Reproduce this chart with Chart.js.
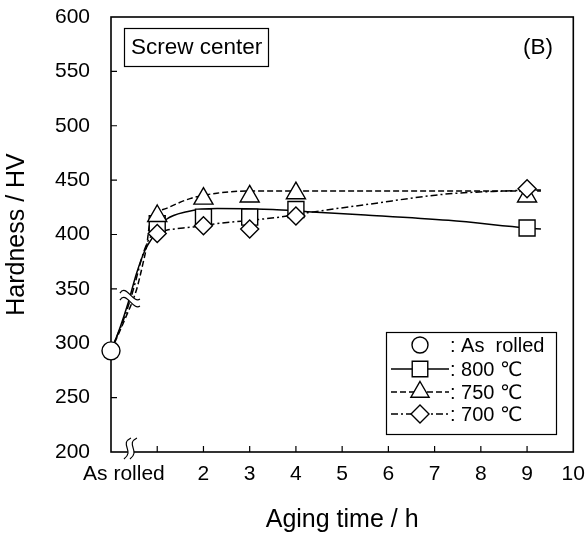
<!DOCTYPE html>
<html>
<head>
<meta charset="utf-8">
<script src="https://cdn.jsdelivr.net/npm/chart.js@4.4.1/dist/chart.umd.min.js"></script>
<style>
  html, body { margin: 0; padding: 0; background: #fff; }
  #wrap { width: 586px; height: 535px; }
</style>
</head>
<body>
<div id="wrap"><canvas id="chart-hardness" width="586" height="535"></canvas></div>
<script>
var asRolledX = [0];
var asRolledY = [293];
var agingTimes = [1, 2, 3, 4, 9];
var hv800 = [410, 416, 416, 423, 406];
var hv750 = [417, 433, 435, 438, 435];
var hv700 = [401, 408, 405, 417, 442];

// hand-drawn fit curves
var fit800X = [0, 0.2, 0.37, 0.55, 0.74, 0.88, 1, 1.2, 1.64, 2.3, 3.5, 4.25, 5.5, 7.3, 9, 9.3];
var fit800Y = [293, 315, 337, 364, 386, 396, 404, 414, 421, 424, 423, 421, 418, 413, 406, 405];
var fit750X = [0, 0.3, 0.55, 0.7, 0.77, 0.84, 1.2, 1.71, 2.29, 3, 5, 7, 9.3];
var fit750Y = [293, 322, 349, 375, 389, 410, 424, 433, 438, 440, 440, 440, 440];
var fit700X = [0, 0.3, 0.48, 0.7, 0.84, 1, 1.2, 1.78, 2.29, 3, 3.65, 4.25, 5.6, 7.2, 8.5, 9.3];
var fit700Y = [293, 325, 349, 383, 397, 402, 404, 407, 410, 413, 416, 420, 428, 437, 440, 441];

// axes
var yTickValues = [200, 250, 300, 350, 400, 450, 500, 550, 600];
var yTickMarks = [250, 300, 350, 400, 450, 500, 550];
var xTickValues = [0.28, 2, 3, 4, 5, 6, 7, 8, 9, 10];
var xTickLabels = ['As rolled', '2', '3', '4', '5', '6', '7', '8', '9', '10'];
var xTickMarks = [1, 2, 3, 4, 5, 6, 7, 8, 9];

var legendLabels = [': As  rolled', ': 800 \u2103', ': 750 \u2103', ': 700 \u2103'];

var FONT = '"Liberation Sans", Arial, "DejaVu Sans", sans-serif';

function pts(xs, ys) {
    return xs.map(function (x, i) { return {x: x, y: ys[i]}; });
}

function wavePath(cx, cy, dx, dy, vertical, reverse) {
    // one stroke of a break mark
    var p;
    if (vertical) {
        p = [[cx + 4 + dx, cy - 12], [cx - 8 + dx, cy - 6], [cx + 8 + dx, cy + 1], [cx - 3 + dx, cy + 9]];
    } else {
        p = [[cx - 10, cy - 1 + dy], [cx - 4, cy - 11 + dy], [cx + 3, cy + 10 + dy], [cx + 10, cy + 5 + dy]];
    }
    if (reverse) p = p.slice().reverse();
    return p;
}

function drawBreak(ctx, cx, cy, vertical) {
    var a = wavePath(cx, cy, -3, -3.5, vertical, false);
    var b = wavePath(cx, cy, 3, 3.5, vertical, true);
    ctx.save();
    ctx.beginPath();
    ctx.moveTo(a[0][0], a[0][1]);
    ctx.bezierCurveTo(a[1][0], a[1][1], a[2][0], a[2][1], a[3][0], a[3][1]);
    ctx.lineTo(b[0][0], b[0][1]);
    ctx.bezierCurveTo(b[1][0], b[1][1], b[2][0], b[2][1], b[3][0], b[3][1]);
    ctx.closePath();
    ctx.fillStyle = '#fff';
    ctx.fill();
    ctx.strokeStyle = '#000';
    ctx.lineWidth = 1.2;
    [a, b].forEach(function (p) {
        ctx.beginPath();
        ctx.moveTo(p[0][0], p[0][1]);
        ctx.bezierCurveTo(p[1][0], p[1][1], p[2][0], p[2][1], p[3][0], p[3][1]);
        ctx.stroke();
    });
    ctx.restore();
}

var frameTicks = {
    id: 'frameTicks',
    beforeDatasetsDraw: function (chart) {
        var ctx = chart.ctx, area = chart.chartArea;
        var xs = chart.scales.x, ys = chart.scales.y;
        ctx.save();
        ctx.strokeStyle = '#000';
        ctx.lineWidth = 1.2;
        ctx.beginPath();
        xTickMarks.forEach(function (v) {
            var px = xs.getPixelForValue(v);
            ctx.moveTo(px, area.bottom);
            ctx.lineTo(px, area.bottom - 6);
        });
        yTickMarks.forEach(function (v) {
            var py = ys.getPixelForValue(v);
            ctx.moveTo(area.left, py);
            ctx.lineTo(area.left + 6, py);
        });
        ctx.stroke();
        ctx.lineWidth = 1.6;
        ctx.strokeRect(area.left, area.top, area.right - area.left, area.bottom - area.top);
        ctx.restore();
    }
};

var extras = {
    id: 'extras',
    afterDatasetsDraw: function (chart) {
        var ctx = chart.ctx, area = chart.chartArea;
        var xs = chart.scales.x, ys = chart.scales.y;

        // axis break and curve break
        drawBreak(ctx, xs.getPixelForValue(0.41), area.bottom - 2, true);
        drawBreak(ctx, xs.getPixelForValue(0.41), ys.getPixelForValue(342), false);
    },
    afterDraw: function (chart) {
        var ctx = chart.ctx;
        ctx.save();

        // sample label box
        ctx.strokeStyle = '#000';
        ctx.lineWidth = 1.2;
        ctx.strokeRect(124.5, 28.5, 144, 38);
        ctx.fillStyle = '#000';
        ctx.font = '22.5px ' + FONT;
        ctx.textBaseline = 'middle';
        ctx.textAlign = 'left';
        ctx.fillText('Screw center', 131, 48);
        ctx.textAlign = 'right';
        ctx.fillText('(B)', 553, 48);

        // legend
        ctx.strokeRect(386.5, 332.5, 170, 102);
        var rowY = [345, 369, 392, 414];
        var styles = [
            {point: 'circle', radius: 8, dash: null},
            {point: 'rect', radius: 11, dash: []},
            {point: 'triangle', radius: 10.5, dash: [6, 3]},
            {point: 'rectRot', radius: 9, dash: [7, 3, 2, 3]}
        ];
        ctx.font = '20px ' + FONT;
        ctx.textAlign = 'left';
        styles.forEach(function (s, i) {
            var y = rowY[i];
            if (s.dash) {
                ctx.beginPath();
                ctx.setLineDash(s.dash);
                ctx.lineWidth = 1.4;
                ctx.moveTo(391, y);
                ctx.lineTo(449, y);
                ctx.stroke();
                ctx.setLineDash([]);
            }
            ctx.fillStyle = '#fff';
            ctx.strokeStyle = '#000';
            ctx.lineWidth = 1.4;
            Chart.helpers.drawPoint(ctx, {pointStyle: s.point, radius: s.radius, rotation: 0, borderWidth: 1.4}, 420, y);
            ctx.fillStyle = '#000';
            ctx.fillText(legendLabels[i], 450, y + 1);
        });
        ctx.restore();
    }
};

var ctx = document.getElementById('chart-hardness').getContext('2d');

var markerBase = {
    showLine: false,
    pointBackgroundColor: '#fff',
    pointBorderColor: '#000',
    pointBorderWidth: 1.4,
    clip: false
};
var curveBase = {
    showLine: true,
    pointRadius: 0,
    borderColor: '#000',
    borderWidth: 1.5,
    cubicInterpolationMode: 'monotone',
    fill: false,
    order: 10
};

var chart = new Chart(ctx, {
    type: 'scatter',
    data: {
        datasets: [
            Object.assign({}, markerBase, {label: 'As rolled', data: pts(asRolledX, asRolledY), pointStyle: 'circle', pointRadius: 9, order: 0}),
            Object.assign({}, markerBase, {label: '700', data: pts(agingTimes, hv700), pointStyle: 'rectRot', pointRadius: 9, order: 1}),
            Object.assign({}, markerBase, {label: '750', data: pts(agingTimes, hv750), pointStyle: 'triangle', pointRadius: 11, order: 2}),
            Object.assign({}, markerBase, {label: '800', data: pts(agingTimes, hv800), pointStyle: 'rect', pointRadius: 11.3, order: 3}),
            Object.assign({}, curveBase, {label: 'fit 800', data: pts(fit800X, fit800Y)}),
            Object.assign({}, curveBase, {label: 'fit 750', data: pts(fit750X, fit750Y), borderDash: [6, 3]}),
            Object.assign({}, curveBase, {label: 'fit 700', data: pts(fit700X, fit700Y), borderDash: [7, 3, 2, 3]})
        ]
    },
    options: {
        responsive: false,
        maintainAspectRatio: false,
        animation: false,
        layout: {padding: {top: 17, right: 12, left: 0, bottom: 0}},
        plugins: {
            legend: {display: false},
            tooltip: {enabled: false}
        },
        scales: {
            x: {
                type: 'linear',
                min: 0,
                max: 10,
                afterBuildTicks: function (s) {
                    s.ticks = xTickValues.map(function (v) { return {value: v}; });
                },
                afterFit: function (s) {
                    s.height = 83;
                    s.paddingLeft = 0;
                    s.paddingRight = 0;
                },
                grid: {display: false},
                border: {display: false},
                ticks: {
                    color: '#000',
                    autoSkip: false,
                    maxRotation: 0,
                    padding: 2,
                    font: {size: 21, family: FONT},
                    callback: function (v) {
                        var i = xTickValues.indexOf(v);
                        return i < 0 ? '' : xTickLabels[i];
                    }
                },
                title: {
                    display: true,
                    text: 'Aging time / h',
                    color: '#000',
                    font: {size: 25, family: FONT},
                    padding: {top: 0, bottom: 0}
                }
            },
            y: {
                type: 'linear',
                min: 200,
                max: 600,
                afterBuildTicks: function (s) {
                    s.ticks = yTickValues.map(function (v) { return {value: v}; });
                },
                afterFit: function (s) {
                    s.width = 111;
                    s.paddingTop = 0;
                    s.paddingBottom = 0;
                },
                grid: {display: false},
                border: {display: false},
                ticks: {
                    color: '#000',
                    padding: 13,
                    font: {size: 21, family: FONT}
                },
                title: {
                    display: true,
                    text: 'Hardness / HV',
                    color: '#000',
                    font: {size: 25, family: FONT},
                    padding: {top: 2, bottom: 0}
                }
            }
        }
    },
    plugins: [frameTicks, extras]
});
</script>
</body>
</html>
